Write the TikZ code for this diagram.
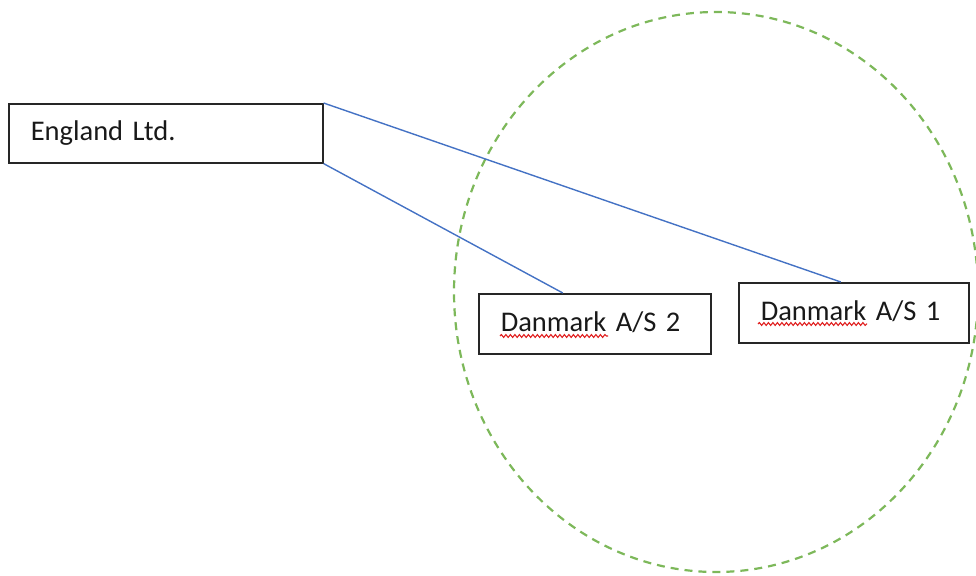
\documentclass[tikz,border=0pt]{standalone}
\usepackage{fontspec}
\setmainfont{Carlito}
\usetikzlibrary{decorations.pathmorphing}
\definecolor{linkblue}{HTML}{4472C4}
\definecolor{zonegreen}{HTML}{7DB85A}
\definecolor{spellred}{HTML}{E02020}
\begin{document}
\begin{tikzpicture}[x=1pt,y=-1pt,
  entity/.style={draw=black!85, line width=1.6pt, inner xsep=22pt, inner ysep=0pt,
    align=left, text height=20pt, text depth=5pt, anchor=north west,
    font=\fontsize{28.5}{34}\selectfont, text=black!90},
  link/.style={draw=linkblue, line width=1.4pt},
  zone/.style={draw=zonegreen, line width=2.2pt, dash pattern=on 8pt off 6pt},
  squiggle/.style={draw=spellred, line width=1.1pt,
    decorate, decoration={snake, amplitude=1.4pt, segment length=4.5pt}}]
  \useasboundingbox (0,0) rectangle (976,575);

  % Danish group boundary
  \draw[zone] (716,292) ellipse [x radius=262pt, y radius=280pt];

  % Companies
  \node[entity, text width=270pt, minimum height=59pt] (eng) at (8,103) {England Ltd.};
  \node[entity, text width=188pt, minimum height=60pt] (dk2) at (478,293) {Danmark A/S 2};
  \node[entity, text width=186pt, minimum height=60pt] (dk1) at (738,282) {Danmark A/S 1};

  % Ownership links
  \draw[link] (eng.north east) -- ([xshift=-13pt]dk1.north);
  \draw[link] (eng.south east) -- ([xshift=-32pt]dk2.north);

  % Spell-check underlines
  \draw[squiggle] (500,336) -- (608,336);
  \draw[squiggle] (758,324) -- (867,324);
\end{tikzpicture}
\end{document}
